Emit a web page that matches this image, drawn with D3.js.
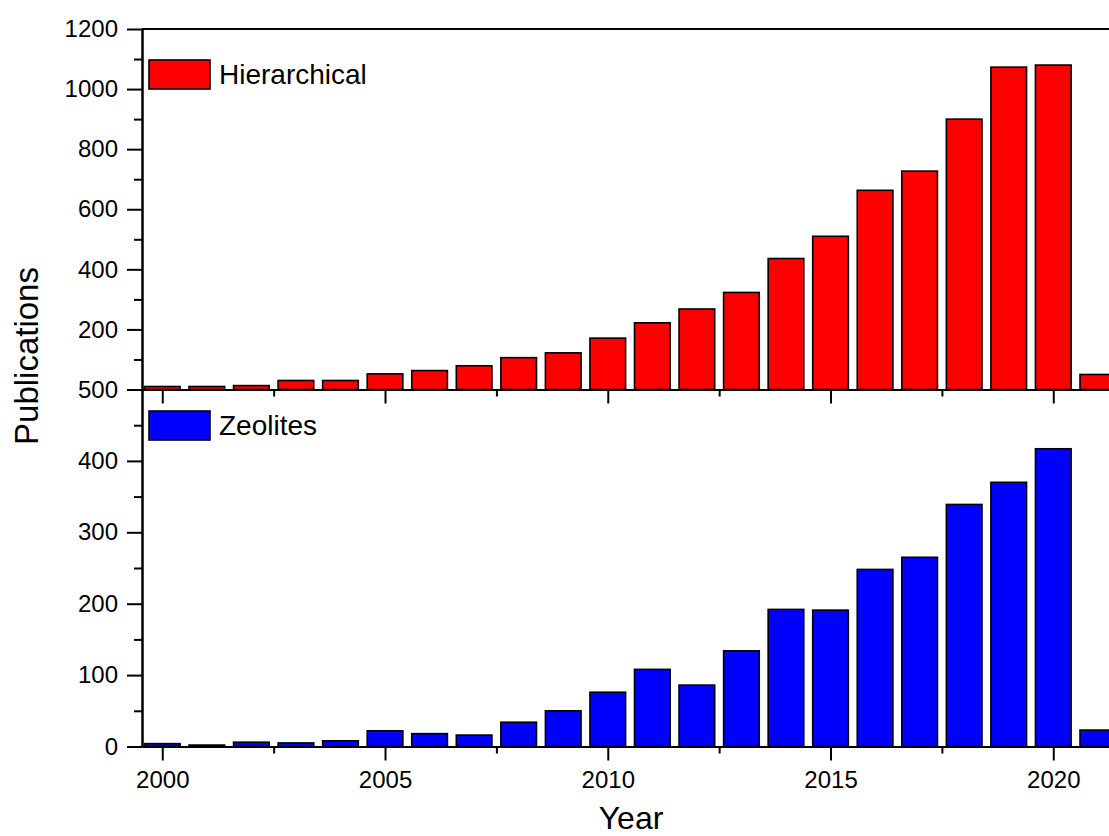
<!DOCTYPE html>
<html>
<head>
<meta charset="utf-8">
<script src="https://cdn.jsdelivr.net/npm/d3@7"></script>
<style>
  html, body { margin: 0; padding: 0; background: #fff; }
  svg { display: block; font-family: "Liberation Sans", Arial, sans-serif; }
</style>
</head>
<body>
<svg id="chart" width="1109" height="836"></svg>
<script>
// Yearly publication counts
const years = [2000, 2001, 2002, 2003, 2004, 2005, 2006, 2007, 2008, 2009, 2010,
               2011, 2012, 2013, 2014, 2015, 2016, 2017, 2018, 2019, 2020, 2021];
const hierarchical = [10, 10, 13, 30, 30, 52, 63, 79, 106, 122, 171,
                      222, 268, 323, 436, 510, 663, 727, 900, 1073, 1080, 50];
const zeolites = [4, 2, 6, 5, 8, 22, 18, 16, 34, 50, 76,
                  108, 86, 134, 192, 191, 248, 265, 339, 370, 417, 23];

const topTicks = [0, 200, 400, 600, 800, 1000, 1200];
const topMinor = [100, 300, 500, 700, 900, 1100];
const bottomTicks = [0, 100, 200, 300, 400, 500];
const bottomMinor = [50, 150, 250, 350, 450];
const xTicks = [2000, 2005, 2010, 2015, 2020];
const xMinor = [2002.5, 2007.5, 2012.5, 2017.5];

const svg = d3.select("#chart");

const left = 142, right = 1120.1;
const x = d3.scaleLinear().domain([1999.545, 2021.5]).range([left, right]);
const yTop = d3.scaleLinear().domain([0, 1200]).range([389.5, 29]);
const yBot = d3.scaleLinear().domain([0, 500]).range([746.5, 389.5]);
const barW = (x(2001) - x(2000)) * 0.8;

function styleAxis(g) {
  g.selectAll("path, line").attr("stroke", "#000").attr("stroke-width", 2);
  g.selectAll("text").attr("fill", "#000").style("font-size", "24px")
    .style("font-family", "'Liberation Sans', Arial, sans-serif");
}

function drawBars(values, y, color) {
  svg.append("g").selectAll("rect")
    .data(values.map((v, i) => ({ year: years[i], v })))
    .join("rect")
    .attr("x", d => x(d.year) - barW / 2)
    .attr("width", barW)
    .attr("y", d => y(d.v))
    .attr("height", d => y(0) - y(d.v))
    .attr("fill", color)
    .attr("stroke", "#000")
    .attr("stroke-width", 1.6);
}

drawBars(hierarchical, yTop, "#ff0000");
drawBars(zeolites, yBot, "#0000ff");

// top frame line
svg.append("line")
  .attr("x1", left).attr("x2", 1109)
  .attr("y1", yTop(1200)).attr("y2", yTop(1200))
  .attr("stroke", "#000").attr("stroke-width", 2);

// left axes
svg.append("g").attr("transform", `translate(${left},0)`)
  .call(d3.axisLeft(yTop).tickValues(topTicks).tickSize(15).tickPadding(9).tickSizeOuter(0)
    .tickFormat(d => d === 0 ? "" : d))
  .call(styleAxis);
svg.append("g").attr("transform", `translate(${left},0)`)
  .call(d3.axisLeft(yTop).tickValues(topMinor).tickSize(8).tickFormat("").tickSizeOuter(0))
  .call(styleAxis);
svg.append("g").attr("transform", `translate(${left},0)`)
  .call(d3.axisLeft(yBot).tickValues(bottomTicks).tickSize(15).tickPadding(9).tickSizeOuter(0))
  .call(styleAxis);
svg.append("g").attr("transform", `translate(${left},0)`)
  .call(d3.axisLeft(yBot).tickValues(bottomMinor).tickSize(8).tickFormat("").tickSizeOuter(0))
  .call(styleAxis);

// x axes (upper panel: ticks only, lower panel: labelled)
function xAxis(yPos, labelled) {
  svg.append("g").attr("transform", `translate(0,${yPos})`)
    .call(d3.axisBottom(x).tickValues(xTicks).tickSize(14).tickPadding(10).tickSizeOuter(0)
      .tickFormat(labelled ? d3.format("d") : ""))
    .call(styleAxis);
  svg.append("g").attr("transform", `translate(0,${yPos})`)
    .call(d3.axisBottom(x).tickValues(xMinor).tickSize(7).tickFormat("").tickSizeOuter(0))
    .call(styleAxis);
}
xAxis(yTop(0), false);
xAxis(yBot(0), true);

// legends
function legend(yTopPx, color, label) {
  svg.append("rect")
    .attr("x", 149).attr("y", yTopPx).attr("width", 61).attr("height", 29)
    .attr("fill", color).attr("stroke", "#000").attr("stroke-width", 1.6);
  svg.append("text")
    .attr("x", 219).attr("y", yTopPx + 24)
    .style("font-size", "28px").attr("fill", "#000")
    .text(label);
}
legend(60, "#ff0000", "Hierarchical");
legend(411, "#0000ff", "Zeolites");

// axis titles
svg.append("text")
  .attr("transform", "translate(38,356) rotate(-90)")
  .attr("text-anchor", "middle")
  .style("font-size", "33px").attr("fill", "#000")
  .text("Publications");
svg.append("text")
  .attr("x", 631).attr("y", 829)
  .attr("text-anchor", "middle")
  .style("font-size", "32px").attr("fill", "#000")
  .text("Year");
</script>
</body>
</html>
